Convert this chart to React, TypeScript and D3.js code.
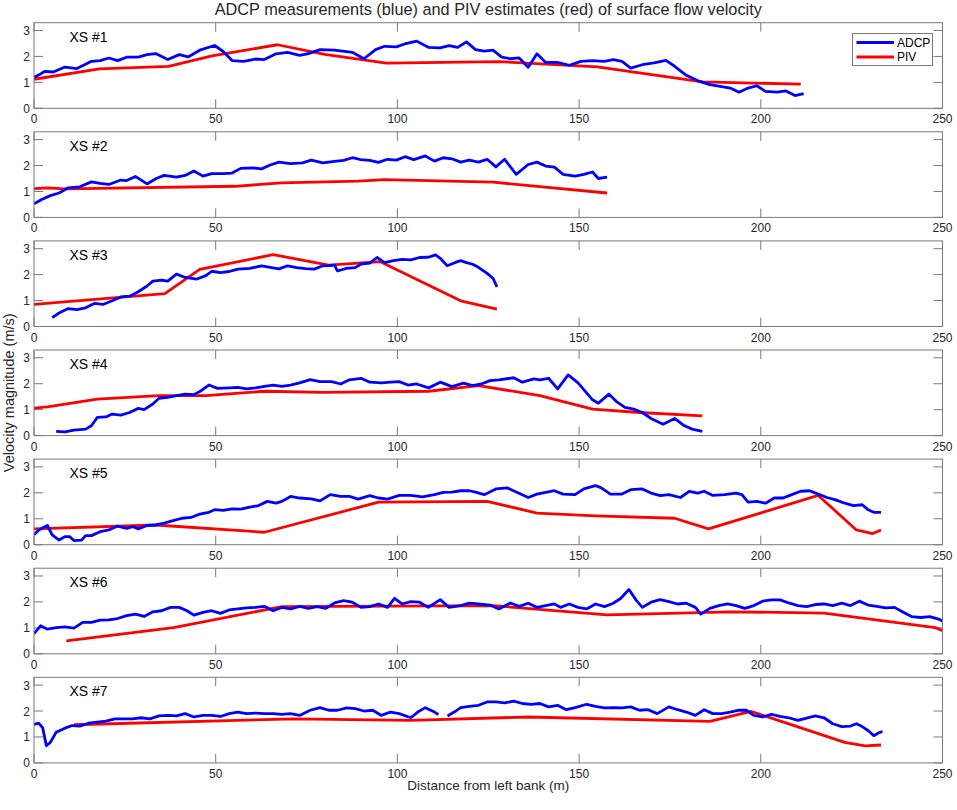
import React from "react";
import * as d3 from "d3";

type P = [number, number];

const title = "ADCP measurements (blue) and PIV estimates (red) of surface flow velocity";
const xLabel = "Distance from left bank (m)";
const yLabel = "Velocity magnitude (m/s)";
const panelNames = ["XS #1", "XS #2", "XS #3", "XS #4", "XS #5", "XS #6", "XS #7"];
const xTicks = [0, 50, 100, 150, 200, 250];
const yTicks = [0, 1, 2, 3];
const legendLabels = ["ADCP", "PIV"];

const adcp1: P[] = [
  [0, 1.19], [1.5, 1.3], [2.9, 1.42], [5.3, 1.4], [8.5, 1.59], [11.8, 1.53], [13.5, 1.65], [15.8, 1.81], [18.2, 1.84], [20.6, 1.94],
  [23, 1.84], [25.5, 1.97], [28.7, 1.97], [31.1, 2.07], [33.5, 2.11], [36.8, 1.88], [40, 2.07], [42.4, 1.98],
  [45.6, 2.24], [49.7, 2.42], [52, 2.2], [54.5, 1.84], [57.7, 1.81], [60.9, 1.9], [63.4, 1.88], [66.6, 2.1],
  [69.8, 2.16], [73.1, 2.04], [75.5, 2.11], [78.7, 2.26], [82.7, 2.24], [87.6, 2.16], [90.8, 1.91], [94, 2.26],
  [96.5, 2.39], [99.7, 2.37], [102, 2.48], [105.3, 2.59], [108.5, 2.35], [111.8, 2.33], [114.2, 2.42], [116.6, 2.35],
  [119, 2.56], [121.5, 2.26], [123.9, 2.2], [126.3, 2.24], [128.7, 1.97], [131.1, 1.91], [133.5, 1.94], [136, 1.58],
  [138.4, 2.1], [140.8, 1.77], [144, 1.77], [147.3, 1.66], [150.5, 1.81], [153.7, 1.84], [156.9, 1.81], [159.4, 1.88],
  [161.8, 1.81], [164.2, 1.55], [167.4, 1.68], [170.6, 1.75], [173.9, 1.85], [176.3, 1.62], [179.5, 1.27], [182.7, 1.06],
  [186, 0.91], [189.2, 0.84], [191.6, 0.78], [194, 0.62], [196.5, 0.78], [198.9, 0.87], [201.3, 0.65], [204.5, 0.62],
  [206.9, 0.67], [209.4, 0.49], [211.8, 0.57],
];
const piv1: P[] = [
  [0, 1.12], [18, 1.52], [37, 1.62], [49, 2.02], [67, 2.45], [80, 2.08], [97, 1.74], [128, 1.8], [155, 1.6], [184, 1.02], [211, 0.93],
];

const adcp2: P[] = [
  [0, 0.52], [2.1, 0.69], [4.5, 0.84], [6.9, 0.94], [9.4, 1.14], [12.6, 1.18], [15.8, 1.37], [18.2, 1.31], [20.6, 1.27],
  [23.9, 1.44], [25.5, 1.42], [27.9, 1.58], [31.1, 1.29], [33.5, 1.49], [35.8, 1.62], [39.2, 1.55], [41.6, 1.62],
  [44, 1.79], [46.5, 1.59], [48.9, 1.69], [52.1, 1.69], [54.5, 1.71], [56.9, 1.89], [60.2, 1.91], [62.6, 1.87],
  [65, 2.02], [67.4, 2.13], [70.6, 2.07], [73.9, 2.1], [76.3, 2.21], [79.5, 2.1], [82.7, 2.16], [85.2, 2.2],
  [87.6, 2.3], [89.9, 2.23], [92.4, 2.2], [94.8, 2.12], [97.3, 2.24], [99.7, 2.21], [102.1, 2.34], [104.5, 2.23],
  [107.7, 2.37], [110.2, 2.17], [112.6, 2.3], [115, 2.26], [117.4, 2.13], [119.8, 2.21], [122.3, 2.13], [124.7, 2.24],
  [127.1, 1.95], [129.5, 2.24], [132.7, 1.66], [136, 2.04], [138.4, 2.13], [140.8, 1.98], [143.2, 1.94], [145.6, 1.66],
  [148.9, 1.59], [151.3, 1.66], [153.7, 1.75], [155.3, 1.5], [157.7, 1.55],
];
const piv2: P[] = [
  [0, 1.11], [3.7, 1.14], [8.5, 1.1], [55.3, 1.2], [68, 1.33], [89.2, 1.4], [96.5, 1.46], [126.3, 1.36], [157.7, 0.94],
];

const adcp3: P[] = [
  [5, 0.34], [6.9, 0.52], [9.4, 0.69], [11.8, 0.65], [14.2, 0.72], [16.6, 0.89], [19, 0.85], [21.5, 0.99], [23.9, 1.14],
  [26.3, 1.17], [28.7, 1.34], [31.1, 1.56], [32.7, 1.75], [35.1, 1.79], [36.8, 1.75], [39.2, 2.02], [41.6, 1.89],
  [44.8, 1.83], [47.3, 1.96], [48.9, 2.13], [51.3, 2.08], [53.7, 2.12], [56.1, 2.21], [59.4, 2.24], [62.6, 2.34],
  [65, 2.28], [67.4, 2.22], [69.8, 2.34], [72.3, 2.27], [74.7, 2.23], [77.1, 2.21], [79.5, 2.34], [81.1, 2.35],
  [82.7, 2.37], [83.5, 2.14], [86, 2.24], [88.4, 2.27], [90, 2.41], [92.4, 2.44], [94.4, 2.66], [96.5, 2.46],
  [98.9, 2.54], [101.3, 2.59], [103.7, 2.57], [106.1, 2.66], [108.5, 2.67], [110.5, 2.76], [111.8, 2.63], [113.7, 2.34],
  [115.8, 2.46], [117.4, 2.54], [119, 2.46], [120.7, 2.4], [122.3, 2.28], [124.7, 2.05], [126.3, 1.86], [127.4, 1.53],
];
const piv3: P[] = [
  [0, 0.85], [36, 1.27], [45.6, 2.2], [65.8, 2.77], [81.1, 2.37], [95.3, 2.5], [117.4, 0.99], [127.4, 0.67],
];

const adcp4: P[] = [
  [6.1, 0.16], [8.5, 0.14], [11, 0.21], [14.2, 0.25], [15.8, 0.38], [17.4, 0.7], [19.8, 0.72], [21.5, 0.83], [23.9, 0.79],
  [26.3, 0.89], [28.7, 1.05], [30.3, 1.0], [32.7, 1.22], [34.4, 1.44], [36.8, 1.47], [39.2, 1.54], [41.6, 1.6],
  [44, 1.58], [46, 1.73], [48.1, 1.95], [50.5, 1.82], [53.7, 1.84], [56.1, 1.86], [58.5, 1.8], [61, 1.84],
  [63.4, 1.9], [65.8, 1.95], [68.2, 1.9], [70.6, 1.95], [73.1, 2.03], [76, 2.16], [78.7, 2.08], [81.9, 2.08],
  [84.4, 1.99], [86.8, 2.15], [90, 2.21], [92.4, 2.06], [95.6, 2.03], [98.1, 2.06], [100.5, 2.08], [102.9, 1.95],
  [105.3, 1.99], [108.6, 1.84], [111.8, 2.06], [115, 1.89], [118.2, 2.02], [120.7, 1.93], [123.1, 1.99], [125.5, 2.12],
  [127.9, 2.15], [132, 2.23], [134.4, 2.06], [137.6, 2.19], [139.2, 2.15], [141.6, 2.21], [144.1, 1.8], [147, 2.34],
  [149.7, 2.03], [153.7, 1.38], [155.3, 1.25], [158.2, 1.6], [160.2, 1.32], [162.6, 1.09], [165, 1.02], [167.4, 0.89],
  [169.8, 0.66], [173.1, 0.44], [176.3, 0.66], [178.7, 0.4], [181.1, 0.25], [183.9, 0.16],
];
const piv4: P[] = [
  [0, 1.06], [3.7, 1.11], [17.4, 1.41], [34.4, 1.54], [47.3, 1.54], [63.4, 1.71], [79.5, 1.67], [108.6, 1.71],
  [122.3, 1.93], [139.2, 1.54], [153.7, 1.02], [166.6, 0.89], [183.9, 0.76],
];

const adcp5: P[] = [
  [0, 0.38], [1.3, 0.57], [3.7, 0.74], [5, 0.38], [6.9, 0.18], [8.5, 0.31], [9.8, 0.31], [11, 0.16], [13.1, 0.18],
  [14.2, 0.35], [15.8, 0.35], [18.2, 0.5], [20.6, 0.57], [23, 0.72], [25.5, 0.63], [27.1, 0.7], [28.7, 0.61],
  [31.1, 0.74], [33.5, 0.76], [35.8, 0.83], [38.3, 0.93], [40.7, 1.02], [43.2, 1.05], [45.6, 1.18], [48.1, 1.25],
  [49.7, 1.35], [52.1, 1.32], [54.5, 1.38], [56.9, 1.37], [59.4, 1.45], [61.8, 1.51], [64.2, 1.67], [66.6, 1.6],
  [68.2, 1.67], [70.6, 1.86], [73.1, 1.8], [76.3, 1.77], [78.7, 1.69], [81.5, 1.93], [84.4, 1.86], [86.8, 1.86],
  [89.2, 1.76], [92.4, 1.89], [94.8, 1.8], [97.3, 1.76], [100.5, 1.9], [103.7, 1.9], [106.9, 1.84], [110.2, 1.93],
  [112.6, 2.02], [115, 2.03], [117.4, 2.08], [119.8, 2.08], [121.5, 2.03], [123.9, 1.93], [127.1, 2.15], [130.3, 2.19],
  [132.7, 2.03], [136, 1.82], [138.4, 1.95], [140.8, 2.02], [143.2, 2.08], [145.6, 1.95], [148.9, 1.93], [151.3, 2.15],
  [154.5, 2.28], [156.1, 2.19], [158.6, 1.95], [161.8, 1.95], [164.2, 2.12], [167.4, 2.15], [169.8, 1.99], [172.3, 1.89],
  [174.7, 1.93], [177.9, 1.82], [180.3, 2.06], [182.7, 1.99], [184.4, 2.06], [186.8, 1.9], [190, 1.93], [193.2, 1.99],
  [194.8, 1.93], [196.5, 1.64], [198.9, 1.67], [201.3, 1.6], [203.7, 1.8], [206.1, 1.8], [208.5, 1.93], [211, 2.06],
  [213.4, 2.08], [215.8, 1.95], [218.2, 1.82], [220.6, 1.73], [223.1, 1.6], [225.5, 1.51], [227.9, 1.54], [229.5, 1.35],
  [231.1, 1.25], [233.1, 1.25],
];
const piv5: P[] = [
  [0, 0.61], [33.5, 0.76], [63.4, 0.48], [94.8, 1.64], [124.7, 1.67], [138.4, 1.22], [154.5, 1.11], [176.3, 1.02],
  [185.6, 0.61], [215.8, 1.9], [226.3, 0.57], [230.8, 0.43], [233.1, 0.57],
];

const adcp6: P[] = [
  [0, 0.78], [1.8, 1.08], [3.7, 0.95], [6.1, 1.01], [8.5, 1.04], [11, 0.99], [13.4, 1.21], [15.8, 1.21], [18.2, 1.3],
  [20.6, 1.31], [23, 1.36], [25.5, 1.47], [27.9, 1.53], [30.3, 1.44], [32.7, 1.62], [35.1, 1.66], [37.6, 1.79],
  [40, 1.79], [42.1, 1.66], [44, 1.49], [46.5, 1.6], [48.9, 1.66], [51.3, 1.56], [53.7, 1.69], [56.1, 1.73],
  [58.5, 1.77], [61, 1.79], [63.4, 1.83], [65.8, 1.66], [68.2, 1.79], [70.6, 1.73], [73.1, 1.83], [75.5, 1.75],
  [77.9, 1.82], [80.3, 1.75], [82.7, 1.96], [85.2, 2.05], [87.6, 1.99], [90, 1.79], [92.4, 1.82], [94.8, 1.92],
  [97.3, 1.79], [99.2, 2.14], [101.3, 1.92], [103.7, 2.01], [106.1, 1.99], [108.5, 1.79], [111.8, 2.09], [114.2, 1.79],
  [117.4, 1.86], [119.8, 1.95], [122.3, 1.92], [125.5, 1.88], [127.9, 1.73], [131.1, 1.96], [133.5, 1.83], [136, 1.95],
  [138.4, 1.79], [140.8, 1.86], [143.2, 1.92], [144.9, 1.79], [147.3, 1.92], [149.7, 1.79], [152.1, 1.73], [154.5, 1.92],
  [157, 1.82], [159.4, 1.95], [161.5, 2.14], [163.7, 2.48], [165.8, 2.05], [167.4, 1.79], [169.8, 1.99], [172.3, 2.09],
  [174.7, 2.01], [177.1, 1.92], [179.5, 1.95], [182, 1.79], [183.5, 1.53], [186, 1.75], [188.4, 1.86], [190.8, 1.92],
  [193.2, 1.86], [195.6, 1.75], [198.1, 1.86], [200.5, 2.03], [202.9, 2.08], [205.3, 2.08], [207.7, 1.96], [210.2, 1.86],
  [212.6, 1.82], [215, 1.9], [217.4, 1.92], [219.8, 1.86], [222.3, 1.95], [224.7, 1.86], [227.1, 2.03], [229.5, 1.88],
  [231.9, 1.83], [234.4, 1.77], [236.8, 1.79], [239.2, 1.6], [241.6, 1.43], [244, 1.4], [246.5, 1.43], [248.9, 1.34],
  [251.3, 1.17],
];
const piv6: P[] = [
  [8.9, 0.5], [38.4, 1.01], [68.2, 1.82], [126.3, 1.86], [157.7, 1.5], [191.6, 1.62], [217.4, 1.57], [248, 1.01], [251.3, 0.82],
];

const adcp7: P[] = [
  [0, 1.48], [1.3, 1.53], [2.4, 1.35], [3.4, 0.66], [4.5, 0.79], [6.1, 1.18], [8.5, 1.34], [10.5, 1.44], [12.6, 1.42],
  [15, 1.53], [17.4, 1.57], [19.8, 1.61], [22.3, 1.7], [24.7, 1.7], [27.1, 1.7], [29.5, 1.74], [31.9, 1.7],
  [34.4, 1.81], [36.8, 1.83], [39.2, 1.81], [41.6, 1.9], [44, 1.77], [46.5, 1.83], [48.9, 1.83], [51.3, 1.79],
  [53.7, 1.9], [56.1, 1.96], [58.5, 1.9], [61, 1.92], [63.4, 1.9], [65.8, 1.9], [68.2, 1.87], [70.6, 1.9],
  [73.1, 1.83], [76, 2.03], [78.7, 2.13], [81.1, 2.03], [83.5, 2.03], [86, 2.12], [88.4, 2.09], [90.8, 2.0],
  [93.2, 2.03], [95.6, 1.83], [98.1, 1.96], [100.5, 1.9], [103.7, 1.74], [105.6, 1.96], [107.7, 2.13], [110.2, 1.96],
  [111.3, 1.86], [112.5, NaN], [113.8, 1.81], [115.5, 1.95], [117.4, 2.13], [119.8, 2.18], [122.3, 2.22], [124.7, 2.35], [127.1, 2.35],
  [129.5, 2.31], [132, 2.38], [134.4, 2.29], [136.8, 2.26], [139.2, 2.29], [141.6, 2.16], [144.1, 2.22], [146.5, 2.05],
  [148.9, 2.13], [152.1, 2.26], [154.5, 2.18], [157, 2.12], [159.4, 2.13], [161.8, 2.12], [164.2, 2.16], [166.6, 2.03],
  [169, 2.05], [171.5, 1.9], [174.7, 2.16], [177.1, 2.05], [179.5, 1.96], [182, 1.83], [184.4, 2.05], [186.8, 1.9],
  [189.2, 1.9], [191.6, 1.96], [194, 2.03], [196, 2.03], [198.1, 1.83], [200.5, 1.77], [202.9, 1.87], [205.3, 1.79],
  [207.7, 1.74], [210.2, 1.64], [212.6, 1.73], [215, 1.81], [217.4, 1.74], [219.8, 1.51], [222.3, 1.4], [224.7, 1.42],
  [226.3, 1.51], [227.9, 1.4], [229.5, 1.25], [231.1, 1.05], [232.7, 1.18], [233.5, 1.21],
];
const piv7: P[] = [
  [11, 1.47], [71.4, 1.7], [103.7, 1.64], [136, 1.77], [186, 1.6], [197.3, 1.99], [223.1, 0.79], [228.7, 0.66], [233.1, 0.69],
];

const adcpSeries = [adcp1, adcp2, adcp3, adcp4, adcp5, adcp6, adcp7];
const pivSeries = [piv1, piv2, piv3, piv4, piv5, piv6, piv7];

const W = 957;
const H = 810;
const left = 34;
const right = 942.5;
const firstTop = 22.7;
const step = 109.1;
const ph = 85.6;
const axisColor = "#7a7a7a";
const textColor = "#262626";
const font = "'Liberation Sans', Arial, Helvetica, sans-serif";

export default function App() {
  const x = d3.scaleLinear().domain([0, 250]).range([left, right]);
  return (
    <svg width={W} height={H} style={{ position: "absolute", left: 0, top: 0, background: "#fff" }} fontFamily={font}>
      <rect x={0} y={0} width={W} height={H} fill="#fff" />
      <text x={(left + right) / 2} y={15} textAnchor="middle" fontSize={16.3} fill={textColor}>{title}</text>
      {panelNames.map((name, i) => {
        const top = firstTop + i * step;
        const y = d3.scaleLinear().domain([0, 3.3]).range([top + ph, top]);
        const line = d3.line<P>().defined(d => !isNaN(d[1])).x(d => x(d[0])).y(d => y(d[1]));
        const clipId = `clip${i}`;
        return (
          <g key={name}>
            <defs>
              <clipPath id={clipId}>
                <rect x={left} y={top} width={right - left} height={ph} />
              </clipPath>
            </defs>
            <rect x={left} y={top} width={right - left} height={ph} fill="#fff" />
            {xTicks.map(t => (
              <g key={"xt" + t}>
                <line x1={x(t)} x2={x(t)} y1={top + ph} y2={top + ph - 9} stroke={axisColor} strokeWidth={1} />
                <line x1={x(t)} x2={x(t)} y1={top} y2={top + 9} stroke={axisColor} strokeWidth={1} />
                <text x={x(t)} y={top + ph + 15} textAnchor="middle" fontSize={12} fill={textColor}>{t}</text>
              </g>
            ))}
            {yTicks.map(t => (
              <g key={"yt" + t}>
                <line x1={left} x2={left + 9} y1={y(t)} y2={y(t)} stroke={axisColor} strokeWidth={1} />
                <line x1={right} x2={right - 9} y1={y(t)} y2={y(t)} stroke={axisColor} strokeWidth={1} />
                <text x={30} y={y(t) + 4.5} textAnchor="end" fontSize={12} fill={textColor}>{t}</text>
              </g>
            ))}
            <g clipPath={`url(#${clipId})`}>
              <path d={line(pivSeries[i]) || ""} fill="none" stroke="#ff0000" strokeWidth={2.8} strokeLinejoin="round" />
              <path d={line(adcpSeries[i]) || ""} fill="none" stroke="#0000ff" strokeWidth={2.8} strokeLinejoin="round" />
            </g>
            <rect x={left} y={top} width={right - left} height={ph} fill="none" stroke={axisColor} strokeWidth={1} />
            <text x={69.5} y={top + 19} fontSize={14} fill="#000">{name}</text>
          </g>
        );
      })}
      <g>
        <rect x={852.5} y={33.5} width={80} height={32} fill="#fff" stroke={axisColor} strokeWidth={1} />
        <line x1={856.5} x2={894} y1={42.5} y2={42.5} stroke="#0000ff" strokeWidth={2.8} />
        <line x1={856.5} x2={894} y1={57} y2={57} stroke="#ff0000" strokeWidth={2.8} />
        <text x={897} y={46.5} fontSize={12} fill="#000">{legendLabels[0]}</text>
        <text x={897} y={61} fontSize={12} fill="#000">{legendLabels[1]}</text>
      </g>
      <text x={(left + right) / 2} y={790} textAnchor="middle" fontSize={13.5} fill={textColor}>{xLabel}</text>
      <text transform={`translate(14, ${(firstTop + 6 * step + ph + firstTop) / 2}) rotate(-90)`} textAnchor="middle" fontSize={14.5} fill={textColor}>{yLabel}</text>
    </svg>
  );
}
